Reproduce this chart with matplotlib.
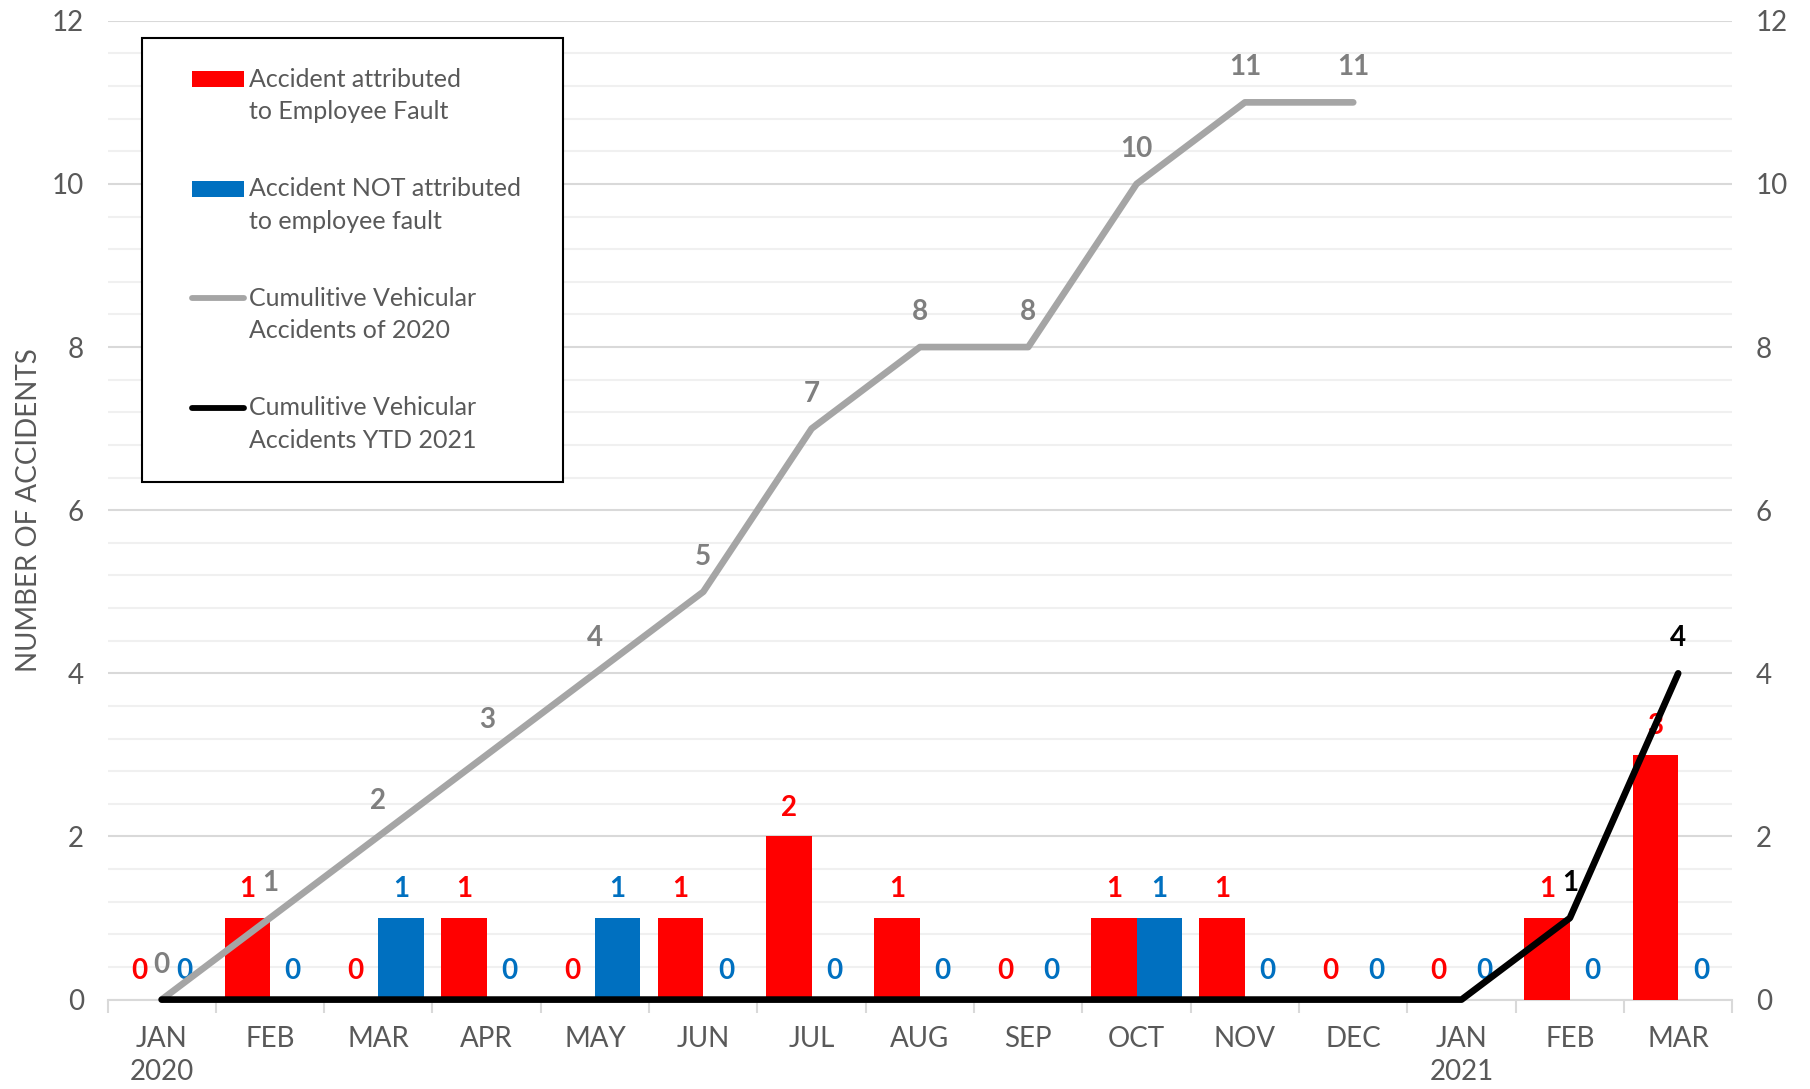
# ==========================================
# Vehicular accidents Jan 2020 - Mar 2021
# ==========================================

import matplotlib
matplotlib.use("Agg")
import matplotlib.pyplot as plt
from matplotlib.patches import Patch, Rectangle
from matplotlib.lines import Line2D
from matplotlib.legend_handler import HandlerBase
import numpy as np

plt.rcParams["font.family"] = ["Lato", "DejaVu Sans"]

# ==========================================
# DATA
# ==========================================

months = ["JAN\n2020", "FEB", "MAR", "APR", "MAY", "JUN", "JUL", "AUG",
          "SEP", "OCT", "NOV", "DEC", "JAN\n2021", "FEB", "MAR"]

employee_fault = [0, 1, 0, 1, 0, 1, 2, 1, 0, 1, 1, 0, 0, 1, 3]
not_employee_fault = [0, 0, 1, 0, 1, 0, 0, 0, 0, 1, 0, 0, 0, 0, 0]

cum_2020 = [0, 1, 2, 3, 4, 5, 7, 8, 8, 10, 11, 11]
cum_2021 = [0, 0, 0, 0, 0, 0, 0, 0, 0, 0, 0, 0, 0, 1, 4]

# ==========================================
# COLORS
# ==========================================

RED = "#FF0000"
BLUE = "#0070C0"
GRAY_LINE = "#A5A5A5"
GRAY_LABEL = "#7F7F7F"
TEXT = "#595959"
GRID = "#D9D9D9"
MINOR_GRID = "#F0F0F0"

LINE_W = 4.8

x = np.arange(len(months))
bar_w = 0.42

fig = plt.figure(figsize=(18.10, 10.89), dpi=100)
ax = fig.add_axes([0.0594, 0.0821, 0.8977, 0.8988])

# bars
ax.bar(x - bar_w / 2, employee_fault, width=bar_w, color=RED, zorder=3)
ax.bar(x + bar_w / 2, not_employee_fault, width=bar_w, color=BLUE, zorder=3)

# bar labels
for xi, v in zip(x, employee_fault):
    ax.text(xi - bar_w / 2, v + 0.35, str(v), color=RED, fontsize=20,
            fontweight="bold", ha="center", va="center", zorder=4)
for xi, v in zip(x, not_employee_fault):
    ax.text(xi + bar_w / 2, v + 0.35, str(v), color=BLUE, fontsize=20,
            fontweight="bold", ha="center", va="center", zorder=4)

# lines
x2020 = x[:len(cum_2020)]
ax.plot(x2020, cum_2020, color=GRAY_LINE, lw=LINE_W, solid_capstyle="round",
        solid_joinstyle="round", zorder=5, clip_on=False)
ax.plot(x, cum_2021, color="black", lw=LINE_W, solid_capstyle="round",
        solid_joinstyle="round", zorder=6, clip_on=False)

for xi, v in zip(x2020, cum_2020):
    ax.text(xi, v + 0.43, str(v), color=GRAY_LABEL, fontsize=20,
            fontweight="bold", ha="center", va="center", zorder=7)
for xi, v in zip(x, cum_2021):
    if v > 0:
        ax.text(xi, v + 0.43, str(v), color="black", fontsize=20,
                fontweight="bold", ha="center", va="center", zorder=7)

# ==========================================
# AXES
# ==========================================

ax.set_xlim(-0.5, len(months) - 0.5)
ax.set_ylim(0, 12)

ax.set_yticks(np.arange(0, 13, 2))
ax.set_yticks(np.arange(0, 12.01, 0.4), minor=True)
ax.grid(axis="y", which="major", color=GRID, lw=1.5, zorder=0)
ax.grid(axis="y", which="minor", color=MINOR_GRID, lw=1.5, zorder=0)
ax.set_axisbelow(True)

ax.set_xticks(x)
ax.set_xticklabels(months, fontsize=20, color=TEXT, linespacing=1.35)
ax.set_xticks(np.arange(-0.5, len(months), 1), minor=True)
ax.tick_params(axis="x", which="major", length=0, pad=19)
ax.tick_params(axis="x", which="minor", length=9, width=1.5, color=GRID)

ax.tick_params(axis="y", which="both", length=0, labelsize=20,
               labelcolor=TEXT, pad=17, labelright=True)

for side in ["left", "right", "top"]:
    ax.spines[side].set_visible(False)
ax.spines["bottom"].set_color(GRID)
ax.spines["bottom"].set_linewidth(1.5)

fig.text(29 / 1810, 0.532, "NUMBER OF ACCIDENTS", rotation=90,
         fontsize=20, color=TEXT, ha="center", va="center")

# ==========================================
# LEGEND
# ==========================================

class FirstLineHandler(HandlerBase):
    # draws the key next to the first line of a two-line label

    def create_artists(self, legend, orig_handle, xdescent, ydescent,
                       width, height, fontsize, trans):
        key_w = 2.1 * fontsize
        x0 = -xdescent + width - key_w
        yc = -ydescent + height / 2 + 0.68 * fontsize
        if isinstance(orig_handle, Patch):
            key_h = 0.65 * fontsize
            art = Rectangle((x0, yc - key_h / 2), key_w, key_h,
                            facecolor=orig_handle.get_facecolor(),
                            edgecolor="none", transform=trans)
        else:
            art = Line2D([x0, x0 + key_w], [yc, yc],
                         color=orig_handle.get_color(),
                         lw=orig_handle.get_linewidth(),
                         solid_capstyle="round", transform=trans)
        return [art]


handles = [
    Patch(facecolor=RED, edgecolor="none"),
    Patch(facecolor=BLUE, edgecolor="none"),
    Line2D([0], [0], color=GRAY_LINE, lw=4.2),
    Line2D([0], [0], color="black", lw=4.2),
]
labels = [
    "Accident attributed\nto Employee Fault",
    "Accident NOT attributed\nto employee fault",
    "Cumulitive Vehicular\nAccidents of 2020",
    "Cumulitive Vehicular\nAccidents YTD 2021",
]
leg = ax.legend(handles, labels, loc="upper left",
                bbox_to_anchor=(0.0212, 0.5, 0.259, 0.4826), mode="expand",
                fontsize=18, frameon=True, fancybox=False, framealpha=1,
                edgecolor="black", borderpad=1.2, handlelength=2.9,
                handletextpad=0.2, labelspacing=2.16, borderaxespad=0,
                handler_map={Patch: FirstLineHandler(),
                             Line2D: FirstLineHandler()})
leg.get_frame().set_linewidth(1.5)
for t in leg.get_texts():
    t.set_color(TEXT)
    t.set_linespacing(1.5)

fig.savefig("out.png", dpi=100)
